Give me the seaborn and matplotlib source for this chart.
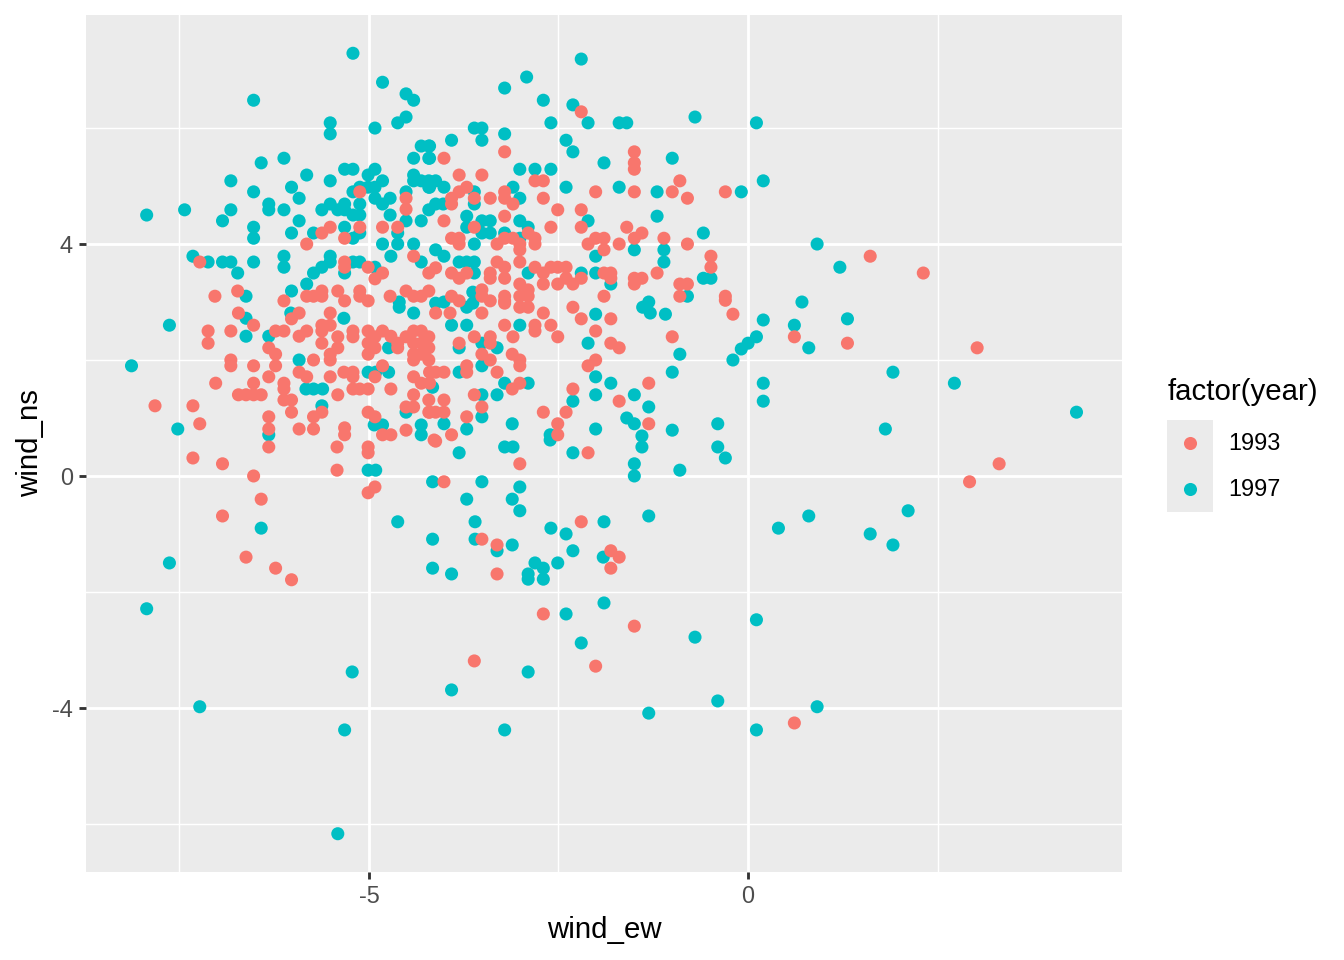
import pandas as pd
import seaborn as sns
import matplotlib.pyplot as plt
from matplotlib.patches import Rectangle
from matplotlib.lines import Line2D

# valores (wind_ew, wind_ns) por ano
ew_1997 = [
    -5.21, -6.52, -4.82, -4.51, -4.41, -4.62, -4.51, -5.51, -5.51, -4.92,
    -4.31, -4.21, -4.41, -4.21, -6.12, -6.42, -6.82, -5.82, -5.32, -5.21,
    -4.92, -5.01, -4.82, -4.41, -4.41, -4.31, -4.21, -4.21, -5.51, -6.02,
    -6.52, -5.01, -4.92, -5.21, -4.51, -5.92, -6.32, -6.32, -6.12, -6.82,
    -7.43, -7.93, -6.93, -5.92, -4.92, -4.82, -4.72, -5.62, -5.51, -5.41,
    -5.32, -5.32, -5.21, -5.12, -5.12, -5.12, -4.72, -4.31, -4.21, -4.51,
    -6.52, -6.52, -6.02, -5.73, -5.32, -5.21, -5.12, -4.82, -4.62, -4.62,
    -4.71, -4.41, -7.32, -7.12, -6.93, -6.82, -6.73, -6.62, -6.52, -6.12,
    -6.12, -5.73, -5.62, -5.51, -5.51, -5.32, -5.82, -6.02, -5.21, -5.12,
    -4.92, -4.31, -4.60,
    -2.20, -2.92, -3.21, -2.70, -2.31, -2.60, -2.11, -1.70, -1.60, -0.70,
    0.11, -3.61, -3.51, -3.51, -3.21, -3.91, -4.20, -4.20, -2.40, -2.31,
    -1.90, -1.00, -3.01, -2.81, -2.60, -4.12, -4.01, -4.20, -2.40, -1.70,
    -1.20, -0.09, 0.20, -3.10, -3.61, -3.61, -3.01, -4.12, -4.02, -3.71,
    -3.71, -3.51, -3.40, -3.01, -2.90, -2.11, -1.20, -3.51, -3.40, -3.21,
    -3.01, -3.61, -4.12, -4.01, -3.81, -3.71, -3.61, -3.61, -2.90, -2.20,
    -2.01, -2.01, -1.50, -1.11, -1.11, -0.59, -0.59, -0.49, -0.80, -1.81,
    -1.31, -3.63, -4.01,
    -8.13, -7.63, -7.52, -7.63, -6.42, -4.62, -4.16, -4.16, -4.16, -6.62,
    -6.62, -6.32, -5.92, -5.83, -5.73, -5.61, -5.62, -6.32, -5.01, -4.91,
    -4.74, -4.93, -4.82, -5.01, -4.91, -6.03, -5.33, -4.74, -4.31, -4.31,
    -4.16, -4.51, -4.60, -4.41,
    -2.01, -1.39, -1.29, -2.11, -0.90, -1.00, -0.20, -0.09, 0.00, 0.11,
    -2.01, -1.81, -2.01, -2.31, -1.50, -1.31, -1.60, -1.50, -1.40, -1.40,
    -1.50, -1.50, -1.00, -0.90, -0.40, -0.40, -0.30, 0.20, 0.20, -2.01,
    -2.61, -2.61, -2.31, -3.21, -3.10, -3.11, -3.81, -3.71, -3.51, -4.01,
    -3.31, -3.51, -3.21, -2.90, -3.81, -3.51, -3.51, -3.71, -3.11, -3.01,
    -3.01, -3.60, -3.60, -3.91, -3.11, -3.31, -2.60, -2.40, -2.31, -1.90,
    -1.91, -1.31, -2.51, -2.81, -2.70, -2.90, -2.70, -2.90, -3.91, -3.71,
    -3.01, -3.81, -3.51, -3.31, -4.12, -3.71, -3.63, -1.09, 0.20,
    0.91, 1.21, 0.71, 0.61, 1.31, 0.80, 1.91, 2.72, 4.33, 1.81,
    0.40, 0.80, 1.61, 1.91, 2.11,
    -7.93, -7.23, -5.22, -5.32, -5.41, -3.91, -3.21, -2.90, -2.40, -2.20,
    -1.90, -1.31, -0.70, -0.40, 0.11, 0.11, 0.91,
]
ns_1997 = [
    7.29, 6.48, 6.79, 6.59, 6.48, 6.09, 6.19, 6.09, 5.90, 6.00,
    5.69, 5.69, 5.48, 5.48, 5.48, 5.40, 5.09, 5.19, 5.29, 5.29,
    5.29, 5.19, 5.09, 5.19, 5.09, 5.09, 5.09, 4.98, 5.09, 4.98,
    4.90, 4.98, 4.98, 4.90, 4.90, 4.79, 4.69, 4.59, 4.59, 4.59,
    4.59, 4.50, 4.40, 4.40, 4.79, 4.69, 4.79, 4.59, 4.69, 4.59,
    4.69, 4.59, 4.50, 4.69, 4.50, 4.98, 4.50, 4.40, 4.59, 4.40,
    4.29, 4.10, 4.19, 4.19, 4.29, 4.10, 4.19, 4.00, 4.00, 4.19,
    3.79, 4.00, 3.79, 3.69, 3.69, 3.69, 3.50, 3.10, 3.69, 3.79,
    3.60, 3.50, 3.60, 3.69, 3.79, 3.50, 3.31, 3.19, 3.69, 3.69,
    3.60, 3.69, 3.00,
    7.19, 6.88, 6.69, 6.48, 6.40, 6.09, 6.09, 6.09, 6.09, 6.19,
    6.09, 6.00, 6.00, 5.79, 5.90, 5.79, 5.69, 5.48, 5.79, 5.59,
    5.40, 5.48, 5.29, 5.29, 5.29, 5.09, 4.98, 4.98, 4.98, 4.98,
    4.90, 4.90, 5.09, 4.98, 4.90, 4.69, 4.79, 4.69, 4.69, 4.48,
    4.29, 4.40, 4.40, 4.40, 4.29, 4.40, 4.48, 4.19, 4.19, 4.19,
    4.10, 4.00, 3.90, 3.79, 3.69, 3.69, 3.69, 3.50, 3.50, 3.50,
    3.50, 3.79, 3.90, 3.90, 3.69, 4.19, 3.41, 3.41, 3.10, 3.31,
    3.00, 3.17, 3.00,
    1.90, 2.60, 0.81, -1.50, -0.90, -0.79, -1.09, -1.59, -0.10, 2.72,
    2.41, 2.41, 2.00, 1.50, 1.50, 1.50, 1.21, 0.71, 1.79, 1.79,
    1.79, 0.88, 0.88, 0.10, 0.10, 2.81, 2.72, 2.21, 0.88, 0.71,
    1.53, 1.10, 2.91, 2.81,
    2.79, 2.91, 2.81, 2.29, 2.10, 1.79, 2.00, 2.19, 2.29, 2.40,
    1.71, 1.60, 1.40, 1.29, 1.40, 1.19, 1.00, 0.90, 0.69, 0.50,
    0.21, 0.00, 0.79, 0.10, 0.90, 0.50, 0.31, 1.60, 1.29, 0.81,
    0.71, 0.62, 0.40, 0.50, 0.50, 0.90, 0.40, 0.81, 1.02, 0.90,
    1.40, 1.40, 1.60, 1.60, 1.79, 1.90, -0.10, -0.40, -0.40, -0.19,
    -0.60, -0.79, -1.09, -1.69, -1.19, -1.29, -0.90, -1.00, -1.29, -0.79,
    -1.40, -0.69, -1.50, -1.50, -1.59, -1.69, -1.78, -1.78, 2.60, 2.60,
    2.60, 2.21, 2.29, 2.21, 2.98, 2.91, 2.98, 2.79, 2.69,
    4.00, 3.60, 3.00, 2.60, 2.71, 2.21, 1.79, 1.60, 1.10, 0.81,
    -0.90, -0.69, -1.00, -1.19, -0.60,
    -2.29, -3.98, -3.38, -4.38, -6.17, -3.69, -4.38, -3.38, -2.38, -2.88,
    -2.19, -4.09, -2.78, -3.88, -2.48, -4.38, -3.98,
]

ew_1993 = [
    -5.12, -4.51, -4.51, -5.51, -5.62, -5.12, -4.82, -4.62, -5.82, -5.32,
    -4.41, -5.32, -5.32, -5.01, -4.82, -4.92, -4.21, -7.23, -7.03, -6.73,
    -6.12, -5.82, -5.73, -5.62, -5.62, -5.41, -5.32, -5.12, -5.12, -5.01,
    -4.72, -4.51, -4.41, -4.31, -4.21,
    -2.20, -4.01, -3.21, -1.50, -1.50, -1.50, -3.81, -3.51, -2.81, -2.70,
    -0.90, -3.71, -3.81, -3.91, -3.91, -3.61, -3.40, -3.21, -3.21, -3.10,
    -2.70, -2.01, -1.50, -1.00, -0.80, -0.30, -2.51, -2.20, -3.21, -4.01,
    -3.61, -2.60, -2.20, -1.60, -1.50, -1.40, -1.11, -0.80, -0.49, -0.49,
    -3.91, -3.81, -3.81, -3.31, -3.21, -3.10, -3.01, -3.01, -2.81, -2.81,
    -2.90, -2.11, -2.01, -1.90, -1.90, -1.70, -3.31, -3.21, -3.01, -3.91,
    -3.81, -3.71, -3.40, -3.40, -3.21, -2.81, -2.70, -2.60, -2.51, -2.40,
    -2.70, -2.51, -2.40, -2.31, -2.20, -1.90, -1.81, -1.81, -1.50, -1.40,
    -1.50, -1.20, -0.90, -0.80, -0.90, -0.30, -1.90, -3.01, -2.90, -3.01,
    -2.90, -3.51, -3.51, -3.40, -3.21, -3.21, -3.91, -3.81, -4.12,
    -6.72, -6.52, -7.12, -7.12, -6.82, -6.23, -6.12, -6.02, -5.92, -5.51,
    -5.51, -5.62, -5.62, -5.62, -5.92, -5.82, -6.32, -6.23, -6.23, -6.32,
    -6.82, -6.82, -6.52, -5.73, -5.51, -5.51, -5.41, -5.41, -5.21, -5.21,
    -5.01, -5.01, -5.01, -4.92, -4.92, -4.82, -4.71, -4.62, -4.62, -4.51,
    -4.41, -4.41, -4.41, -4.31, -4.31, -4.31, -4.41, -4.21, -4.21, -4.21,
    -4.82, -4.92, -5.21, -5.33, -5.51, -5.92, -5.82, -6.12, -6.12, -6.12,
    -6.02, -6.02, -6.52, -6.52, -6.42, -6.62, -6.72, -7.02, -7.82, -7.32,
    -7.23, -7.32, -6.93, -6.52, -6.42, -6.93, -6.62, -6.23, -6.02, -6.32,
    -6.32, -6.32, -5.92, -5.73, -5.73, -5.62, -5.41, -5.21, -5.12, -5.01,
    -5.21, -5.32, -5.32, -5.42, -5.42, -5.01, -4.92, -5.01, -5.01, -5.01,
    -4.92, -4.82, -4.71, -4.71, -4.51, -4.51, -4.41, -4.21, -4.14, -4.41,
    -4.31, -4.41, -4.21,
    -2.70, -2.20, -1.81, -2.01, -1.81, -1.70, -1.00, -0.20, -2.01, -2.11,
    -1.70, -1.31, -1.31, -2.31, -2.70, -2.40, -2.51, -2.51, -2.11, -3.01,
    -2.20, -3.51, -3.31, -3.31, -1.81, -1.70, -1.81, -4.01, -4.12, -3.91,
    -3.71, -3.61, -3.51, -3.31, -3.11, -3.01, -3.11, -3.01, -3.01, -3.51,
    -3.40, -3.71, -3.71, -4.12, -4.01, -4.20, -4.20, -4.01, -4.20, -4.01,
    -4.12, -3.81, -3.61, -3.40, -3.40, -3.10, -3.21, -2.81, -2.81, -2.60,
    -2.51, -3.51, -3.01, -2.90, -3.21, -3.93, -4.12, -2.31, -0.30,
    1.61, 2.31, 0.61, 1.31, 3.02, 3.31, 2.92, 0.61, -3.61, -2.70,
    -2.01, -1.50,
]
ns_1993 = [
    4.90, 4.79, 4.60, 4.29, 4.19, 4.29, 4.29, 4.29, 4.00, 4.10,
    3.79, 3.69, 3.60, 3.60, 3.50, 3.40, 3.50, 3.69, 3.10, 3.19,
    3.02, 3.10, 3.10, 3.19, 3.10, 3.19, 3.02, 3.19, 3.10, 3.02,
    3.10, 3.19, 3.10, 3.10, 3.19,
    6.28, 5.48, 5.59, 5.59, 5.40, 5.29, 5.19, 5.19, 5.09, 5.09,
    5.09, 4.98, 4.90, 4.79, 4.69, 4.79, 4.79, 4.90, 4.79, 4.69,
    4.79, 4.90, 4.90, 4.90, 4.79, 4.90, 4.59, 4.59, 4.48, 4.40,
    4.29, 4.29, 4.29, 4.29, 4.10, 4.19, 4.10, 4.00, 3.79, 3.60,
    4.10, 4.10, 4.00, 4.00, 4.10, 4.10, 4.00, 3.90, 4.00, 4.10,
    4.19, 4.00, 4.10, 4.10, 3.90, 4.00, 3.69, 3.60, 3.69, 3.50,
    3.41, 3.50, 3.50, 3.41, 3.41, 3.60, 3.50, 3.60, 3.60, 3.60,
    3.31, 3.31, 3.41, 3.31, 3.41, 3.50, 3.50, 3.41, 3.41, 3.41,
    3.31, 3.50, 3.31, 3.31, 3.10, 3.10, 3.10, 3.31, 3.21, 3.10,
    3.10, 3.21, 3.10, 3.02, 3.10, 3.02, 3.10, 3.02, 3.59,
    2.81, 2.60, 2.50, 2.29, 2.50, 2.50, 2.50, 2.71, 2.81, 2.81,
    2.60, 2.60, 2.50, 2.29, 2.41, 2.50, 2.21, 2.10, 1.90, 1.71,
    2.00, 1.90, 1.90, 2.00, 2.10, 2.00, 2.21, 2.40, 2.50, 2.40,
    2.50, 2.29, 2.10, 2.21, 2.40, 2.50, 2.41, 2.29, 2.21, 2.40,
    2.50, 2.29, 2.10, 2.50, 2.29, 2.10, 2.00, 2.40, 2.21, 2.00,
    1.90, 1.71, 1.71, 1.79, 1.71, 1.79, 1.71, 1.60, 1.50, 1.31,
    1.31, 1.10, 1.60, 1.40, 1.40, 1.40, 1.40, 1.60, 1.21, 1.21,
    0.90, 0.31, 0.21, 0.00, -0.40, -0.69, -1.40, -1.59, -1.79, 1.02,
    0.81, 0.50, 0.81, 0.81, 1.02, 1.10, 1.40, 1.50, 1.50, 1.50,
    1.79, 0.83, 0.71, 0.50, 0.10, 1.10, 1.02, 0.50, 0.40, -0.29,
    -0.19, 0.71, 0.71, 1.50, 1.19, 0.79, 1.19, 1.10, 0.62, 1.71,
    1.60, 1.40, 1.31,
    2.81, 2.71, 2.71, 2.50, 2.29, 2.21, 2.40, 2.79, 2.00, 1.90,
    1.29, 1.60, 0.90, 1.50, 1.10, 1.10, 0.90, 0.71, 0.40, 0.21,
    -0.79, -1.09, -1.19, -1.69, -1.29, -1.40, -1.59, -0.10, 0.60, 0.71,
    1.02, 1.40, 1.19, 1.79, 1.50, 1.60, 2.10, 2.00, 1.90, 2.10,
    2.00, 1.90, 1.79, 1.79, 1.79, 1.79, 1.60, 1.31, 1.10, 1.10,
    1.10, 2.29, 2.40, 2.40, 2.29, 2.40, 2.60, 2.60, 2.50, 2.60,
    2.40, 2.81, 2.91, 2.91, 2.98, 2.81, 2.81, 2.91, 3.03,
    3.79, 3.50, 2.40, 2.29, 2.21, 0.21, -0.10, -4.26, -3.19, -2.38,
    -3.28, -2.59,
]

anos = [1993, 1997]
cores = {1993: "#F8766D", 1997: "#00BFC4"}
x_ticks = [-5, 0]
y_ticks = [-4, 0, 4]

dados = pd.concat([
    pd.DataFrame({"wind_ew": ew_1997, "wind_ns": ns_1997, "year": 1997}),
    pd.DataFrame({"wind_ew": ew_1993, "wind_ns": ns_1993, "year": 1993}),
], ignore_index=True)

plt.rcParams["font.family"] = ["Liberation Sans", "DejaVu Sans"]

W, H = 1344, 960
fig = plt.figure(figsize=(7, 5), dpi=192)
ax = fig.add_axes([86 / W, 1 - 872 / H, (1122 - 86) / W, (872 - 15) / H])
ax.set_facecolor("#EBEBEB")

sns.scatterplot(data=dados, x="wind_ew", y="wind_ns", hue="year",
                palette=cores, s=24, linewidth=0, alpha=1,
                legend=False, ax=ax, zorder=3)

ax.set_xlim(-8.73, 4.93)
ax.set_ylim(-6.83, 7.95)
ax.set_xticks(x_ticks)
ax.set_xticklabels([str(v) for v in x_ticks])
ax.set_yticks(y_ticks)
ax.set_yticklabels([str(v) for v in y_ticks])
ax.set_xticks([-7.5, -2.5, 2.5], minor=True)
ax.set_yticks([-6, -2, 2, 6], minor=True)

ax.grid(which="major", color="white", linewidth=1.07, zorder=1)
ax.grid(which="minor", color="white", linewidth=0.53, zorder=1)
ax.set_axisbelow(True)
for s in ax.spines.values():
    s.set_visible(False)

ax.tick_params(which="major", length=2.75, width=1.07, color="#333333",
               labelsize=8.8, labelcolor="#4D4D4D", pad=2.2)
ax.tick_params(which="minor", length=0)

ax.set_xlabel("wind_ew", fontsize=11, color="black", labelpad=3)
ax.set_ylabel("wind_ns", fontsize=11, color="black", labelpad=3)

# legenda no estilo ggplot
fig.text(1168 / W, 1 - 392 / H, "factor(year)", fontsize=11,
         ha="left", va="center")
fig.add_artist(Rectangle((1167 / W, 1 - 512 / H), 46 / W, 92 / H,
                         transform=fig.transFigure, facecolor="#EBEBEB",
                         edgecolor="none"))
for i, ano in enumerate(anos):
    yk = 1 - (443 + 46 * i) / H
    fig.add_artist(Line2D([1190 / W], [yk], marker="o", markersize=4.9,
                          markeredgewidth=0, color=cores[ano],
                          linestyle="none", transform=fig.transFigure))
    fig.text(1228 / W, yk, str(ano), fontsize=8.8, ha="left", va="center")

fig.savefig("out.png", dpi=192)
